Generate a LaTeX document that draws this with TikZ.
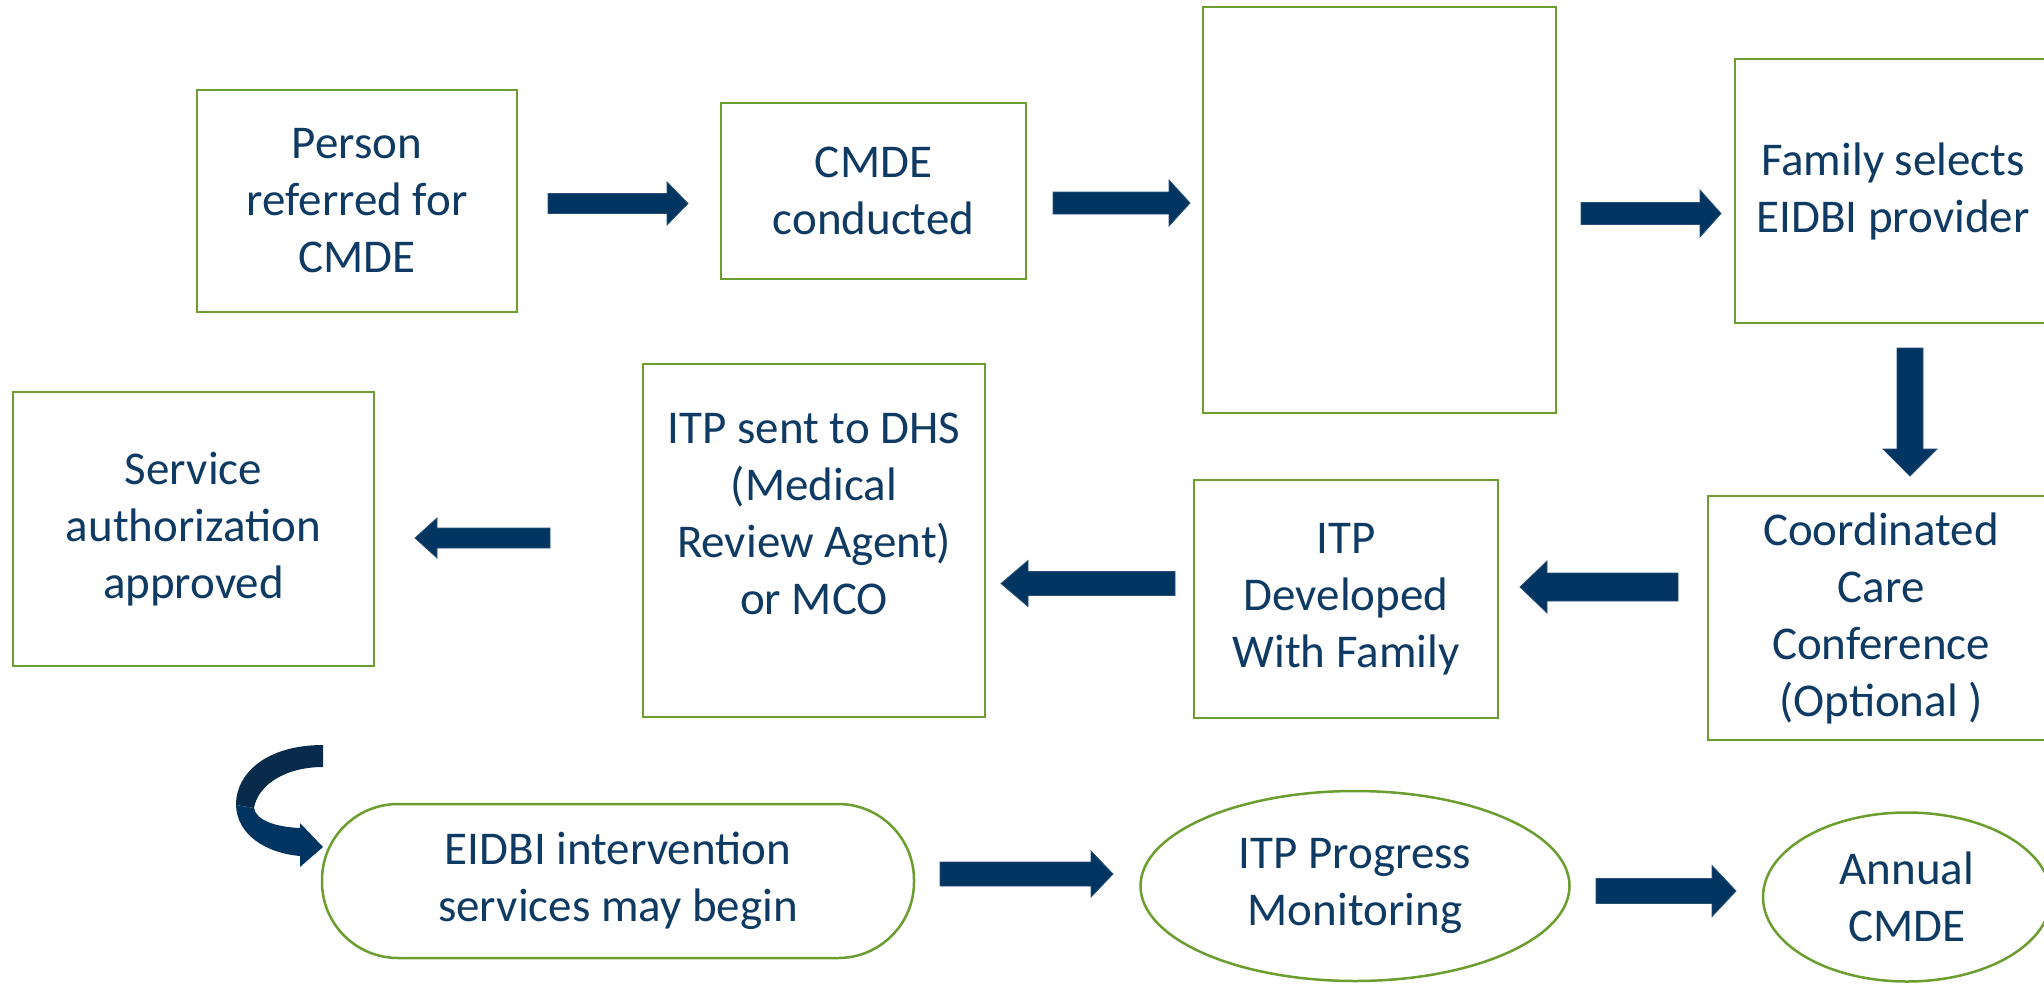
\documentclass[tikz,border=0pt]{standalone}
\usepackage{fontspec}
\setmainfont{Carlito}
\usetikzlibrary{shapes.geometric}
\definecolor{txt}{HTML}{0F3A63}
\definecolor{grn}{HTML}{6B9E2F}
\definecolor{arr}{HTML}{003562}
\definecolor{arrdk}{HTML}{082A4B}
\definecolor{arredge}{HTML}{2A5078}
\newcommand\hblockarrow[6]{% tail x, tip x, y, shaft half, head half, head length (signed)
  \filldraw[blockarrow] (#1,#3-#4) -- (#2-#6,#3-#4) -- (#2-#6,#3-#5) -- (#2,#3) -- (#2-#6,#3+#5) -- (#2-#6,#3+#4) -- (#1,#3+#4) -- cycle;}
\newcommand\vblockarrow[6]{% tail y, tip y, x, shaft half, head half, head length (signed)
  \filldraw[blockarrow] (#3-#4,#1) -- (#3-#4,#2-#6) -- (#3-#5,#2-#6) -- (#3,#2) -- (#3+#5,#2-#6) -- (#3+#4,#2-#6) -- (#3+#4,#1) -- cycle;}
\tikzset{
  txtfont/.style={font=\fontsize{47pt}{57pt}\selectfont, text=txt, align=center},
  box/.style={draw=grn, line width=2.5pt, fill=white, txtfont, inner sep=0pt, rectangle},
  ell/.style={box, ellipse},
  stadium/.style={box, rounded corners=76pt},
  blockarrow/.style={fill=arr, draw=arredge, line width=0.8pt, line join=miter},
}
\begin{document}
\begin{tikzpicture}[x=1pt, y=-1pt]
\useasboundingbox (0,0) rectangle (2044,983);
\fill[white] (0,0) rectangle (2044,983);
\clip (0,0) rectangle (2044,983);

% Row 1
\node[box, minimum width=320pt, minimum height=222pt] (b1) at (357,201) {Person\\referred for\\CMDE};
\node[box, minimum width=305pt, minimum height=176pt] (b2) at (873.5,191) {CMDE\\conducted};
\node[box, minimum width=353pt, minimum height=406pt] (b3) at (1379.5,210) {};
\node[box, minimum width=316pt, minimum height=264pt] (b4) at (1893,191) {Family selects\\EIDBI provider};

% Row 2
\node[box, minimum width=346pt, minimum height=244pt] (b5) at (1881,618) {Coordinated\\Care\\Conference\\(Optional )};
\node[box, minimum width=304pt, minimum height=238pt] (b6) at (1346,599) {ITP\\Developed\\With Family};
\node[box, minimum width=342pt, minimum height=353pt] (b7) at (814,540.5) {};
\node[txtfont, inner sep=0pt] (b7t) at (814,514) {ITP sent to DHS\\(Medical\\Review Agent)\\or MCO};
\node[box, minimum width=361pt, minimum height=274pt] (b8) at (193.5,529) {Service\\authorization\\approved};

% Row 3
\node[stadium, minimum width=592pt, minimum height=154pt] (s1) at (618,881) {EIDBI intervention\\services may begin};
\node[ell, minimum width=429pt, minimum height=190pt] (e1) at (1355,886) {ITP Progress\\Monitoring};
\node[ell, minimum width=288pt, minimum height=169pt] (e2) at (1907,897) {Annual\\CMDE};

% Block arrows
\hblockarrow{548}{688}{203.5}{10}{21.5}{21}
\hblockarrow{1053}{1190}{203}{11}{23}{21}
\hblockarrow{1581}{1721}{213.5}{11}{23.5}{21}
\vblockarrow{348}{476}{1910}{13}{27}{27}
\hblockarrow{1678}{1520}{587}{14}{26}{-27}
\hblockarrow{1175}{1001}{583.5}{12}{23}{-27}
\hblockarrow{550}{415}{538}{10}{20}{-22}
\hblockarrow{940}{1113}{874}{12}{23}{22}
\hblockarrow{1596}{1736}{891}{12.5}{25.5}{24}

% Curved arrow
\fill[arrdk] (323,745) .. controls (268,745) and (236,772) .. (236,805)
  -- (254,808) .. controls (258,785) and (285,767) .. (323,767) -- cycle;
\fill[arr] (236,805) .. controls (237,835) and (266,853) .. (300,856)
  -- (300,867) -- (323,847) -- (300,823) -- (300,828)
  .. controls (275,827) and (256,820) .. (254,808) -- cycle;
\end{tikzpicture}
\end{document}
